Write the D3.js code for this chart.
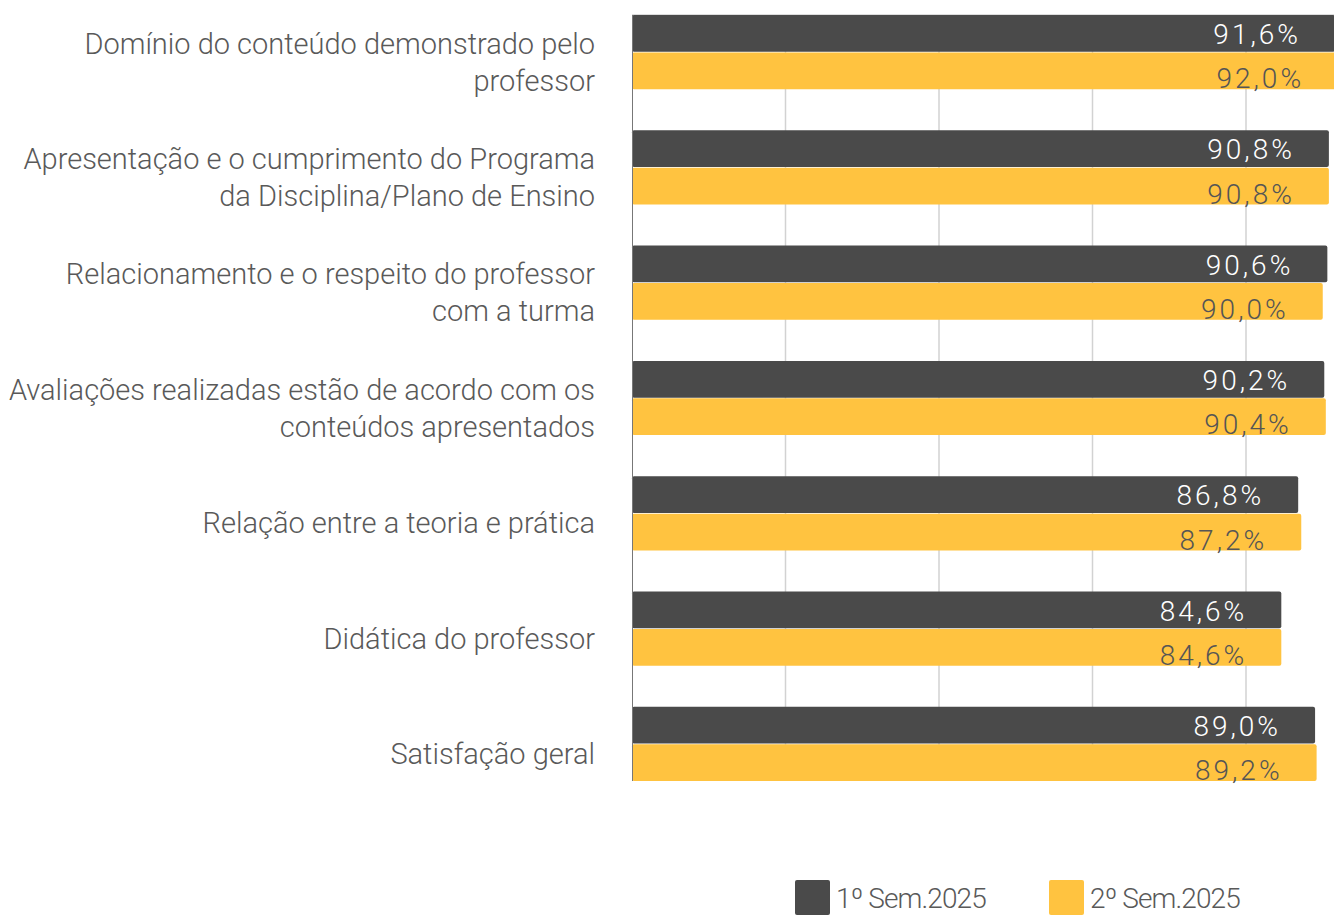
<!DOCTYPE html>
<html>
<head>
<meta charset="utf-8">
<script src="https://cdn.jsdelivr.net/npm/d3@7"></script>
<style>
  body { margin: 0; background: #fff; }
  svg { display: block; font-family: "Roboto Light", Roboto, "Open Sans", sans-serif; }
</style>
</head>
<body>
<div id="chart"></div>
<script>
// Data
var categories = [
  "Domínio do conteúdo demonstrado pelo\nprofessor",
  "Apresentação e o cumprimento do Programa\nda Disciplina/Plano de Ensino",
  "Relacionamento e o respeito do professor\ncom a turma",
  "Avaliações realizadas estão de acordo com os\nconteúdos apresentados",
  "Relação entre a teoria e prática",
  "Didática do professor",
  "Satisfação geral"
];
var seriesNames = ["1º Sem.2025", "2º Sem.2025"];
var sem1 = [91.6, 90.8, 90.6, 90.2, 86.8, 84.6, 89.0];
var sem2 = [92.0, 90.8, 90.0, 90.4, 87.2, 84.6, 89.2];
var gridTicks = [20, 40, 60, 80];

var colors = ["#4a4a4a", "#ffc340"];
var labelColors = ["#ffffff", "#555555"];

var svgWidth = 1334, svgHeight = 916;
var plotLeft = 632, plotTop = 15, plotBottom = 781;

var svg = d3.select("#chart").append("svg")
  .attr("width", svgWidth)
  .attr("height", svgHeight);

var x = d3.scaleLinear().domain([0, 80]).range([plotLeft, 1246]);

var y = d3.scaleBand()
  .domain(d3.range(categories.length))
  .range([plotTop, plotBottom])
  .paddingInner(0.357)
  .paddingOuter(0);

var ySub = d3.scaleBand()
  .domain(d3.range(seriesNames.length))
  .range([0, y.bandwidth()])
  .paddingInner(0.02);

// gridlines
svg.append("g").selectAll("line")
  .data(gridTicks)
  .enter().append("line")
  .attr("x1", function(d) { return x(d); })
  .attr("x2", function(d) { return x(d); })
  .attr("y1", plotTop)
  .attr("y2", plotBottom)
  .attr("stroke", "#d2d2d2")
  .attr("stroke-width", 1.5);

svg.append("line")
  .attr("x1", plotLeft).attr("x2", svgWidth)
  .attr("y1", plotTop).attr("y2", plotTop)
  .attr("stroke", "#d2d2d2")
  .attr("stroke-width", 1.5);

// bars
var rows = categories.map(function(c, i) {
  return { i: i, values: [sem1[i], sem2[i]] };
});

var group = svg.append("g").selectAll("g")
  .data(rows)
  .enter().append("g")
  .attr("transform", function(d) { return "translate(0," + y(d.i) + ")"; });

group.selectAll("rect")
  .data(function(d) { return d.values.map(function(v, s) { return { v: v, s: s }; }); })
  .enter().append("rect")
  .attr("x", x(0))
  .attr("y", function(d) { return ySub(d.s); })
  .attr("width", function(d) { return x(d.v) - x(0); })
  .attr("height", ySub.bandwidth())
  .attr("rx", 2)
  .attr("fill", function(d) { return colors[d.s]; });

// value labels
var fmt = function(v) { return v.toFixed(1).replace(".", ",") + "%"; };
group.selectAll("text")
  .data(function(d) { return d.values.map(function(v, s) { return { v: v, s: s }; }); })
  .enter().append("text")
  .attr("x", function(d) { return x(d.v) - 34; })
  .attr("y", function(d) { return ySub(d.s) + (d.s === 0 ? 29 : 36); })
  .attr("text-anchor", "end")
  .attr("font-size", 28)
  .attr("font-weight", 300)
  .attr("letter-spacing", 3)
  .attr("fill", function(d) { return labelColors[d.s]; })
  .text(function(d) { return fmt(d.v); });

// axis line
svg.append("line")
  .attr("x1", plotLeft + 0.5).attr("x2", plotLeft + 0.5)
  .attr("y1", plotTop).attr("y2", plotBottom)
  .attr("stroke", "#777")
  .attr("stroke-width", 1);

// category labels
var lineH = 37;
svg.append("g").selectAll("text")
  .data(categories)
  .enter().append("text")
  .attr("text-anchor", "end")
  .attr("font-size", 29)
  .attr("font-weight", 300)
  .attr("fill", "#595959")
  .each(function(d, i) {
    var lines = d.split("\n");
    var cy = y(i) + y.bandwidth() / 2 + 20 - (lines.length - 1) * lineH / 2;
    var t = d3.select(this);
    lines.forEach(function(l, k) {
      t.append("tspan")
        .attr("x", 595)
        .attr("y", cy + k * lineH)
        .text(l);
    });
  });

// legend
var legendX = [795, 1049];
var legend = svg.append("g").selectAll("g")
  .data(seriesNames)
  .enter().append("g")
  .attr("transform", function(d, i) { return "translate(" + legendX[i] + ",880)"; });

legend.append("rect")
  .attr("width", 35).attr("height", 35)
  .attr("rx", 2)
  .attr("fill", function(d, i) { return colors[i]; });

legend.append("text")
  .attr("x", 41)
  .attr("y", 28)
  .attr("font-size", 28)
  .attr("font-weight", 300)
  .attr("letter-spacing", -0.9)
  .attr("fill", "#595959")
  .text(function(d) { return d; });
</script>
</body>
</html>
